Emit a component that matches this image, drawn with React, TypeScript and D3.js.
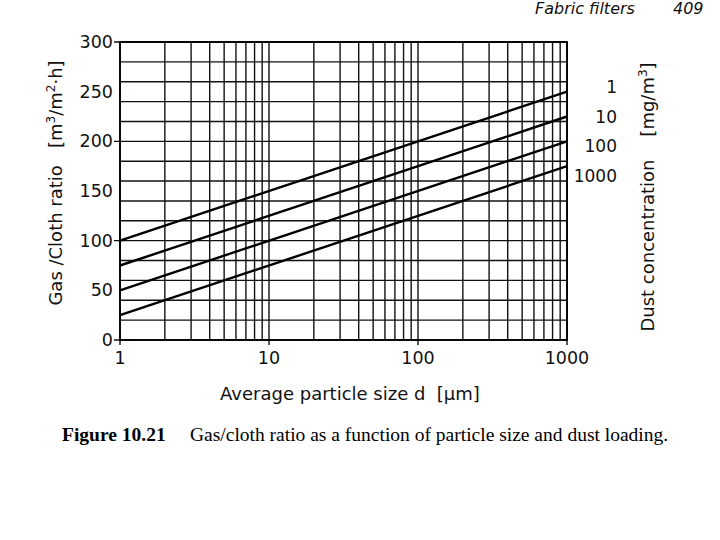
import React, { useEffect, useRef } from "react";
import * as d3 from "d3";

// dust concentrations (mg/m3) and gas/cloth ratio at d = 1 and d = 1000 µm
const concentrations = ["1", "10", "100", "1000"];
const ratioAt1 = [100, 75, 50, 25];
const ratioAt1000 = [250, 225, 200, 175];
const sizeEnds = [1, 1000];
const xTickLabels = [1, 10, 100, 1000];
const yTickLabels = [0, 50, 100, 150, 200, 250, 300];

const NB = "\u00a0";

const App: React.FC = () => {
  const ref = useRef<SVGSVGElement | null>(null);

  useEffect(() => {
    const width = 720;
    const height = 540;
    const left = 120;
    const right = 567;
    const top = 42;
    const bottom = 340;

    const svg = d3.select(ref.current);
    svg.selectAll("*").remove();
    svg.attr("width", width).attr("height", height);

    svg.append("rect").attr("width", width).attr("height", height).attr("fill", "#fff");

    const x = d3.scaleLog().domain([1, 1000]).range([left, right]);
    const y = d3.scaleLinear().domain([0, 300]).range([bottom, top]);
    const font = "DejaVu Sans, sans-serif";

    // vertical grid: 1..9 in each decade
    const vLines: number[] = [];
    for (let k = 0; k < 3; k++) {
      for (let m = 1; m < 10; m++) vLines.push(m * Math.pow(10, k));
    }
    vLines.push(1000);

    const grid = svg.append("g").attr("stroke", "#111").attr("stroke-width", 1.4);
    grid
      .selectAll("line.v")
      .data(vLines)
      .enter()
      .append("line")
      .attr("x1", (d) => x(d))
      .attr("x2", (d) => x(d))
      .attr("y1", top)
      .attr("y2", (d) => (xTickLabels.includes(d) ? bottom + 5 : bottom));

    grid
      .selectAll("line.h")
      .data(y.ticks(12))
      .enter()
      .append("line")
      .attr("x1", (d) => (yTickLabels.includes(d) ? left - 6 : left))
      .attr("x2", right)
      .attr("y1", (d) => y(d))
      .attr("y2", (d) => y(d));

    // frame
    svg
      .append("rect")
      .attr("x", left)
      .attr("y", top)
      .attr("width", right - left)
      .attr("height", bottom - top)
      .attr("fill", "none")
      .attr("stroke", "#000")
      .attr("stroke-width", 1.8);

    // concentration lines
    const line = d3
      .line<[number, number]>()
      .x((d) => x(d[0]))
      .y((d) => y(d[1]));

    concentrations.forEach((c, i) => {
      const pts: [number, number][] = [
        [sizeEnds[0], ratioAt1[i]],
        [sizeEnds[1], ratioAt1000[i]],
      ];
      svg
        .append("path")
        .datum(pts)
        .attr("fill", "none")
        .attr("stroke", "#000")
        .attr("stroke-width", 2.4)
        .attr("d", line);

      svg
        .append("text")
        .attr("x", 617)
        .attr("y", y(ratioAt1000[i]) + [-5, 0, 5, 10][i] + 6)
        .attr("text-anchor", "end")
        .attr("font-family", font)
        .attr("font-size", 17)
        .attr("fill", "#111")
        .text(c);
    });

    // y tick labels
    svg
      .selectAll("text.yt")
      .data(yTickLabels)
      .enter()
      .append("text")
      .attr("x", left - 7)
      .attr("y", (d) => y(d) + 6)
      .attr("text-anchor", "end")
      .attr("font-family", font)
      .attr("font-size", 17.5)
      .attr("fill", "#111")
      .text((d) => d);

    // x tick labels
    svg
      .selectAll("text.xt")
      .data(xTickLabels)
      .enter()
      .append("text")
      .attr("x", (d) => x(d))
      .attr("y", bottom + 24)
      .attr("text-anchor", "middle")
      .attr("font-family", font)
      .attr("font-size", 17.5)
      .attr("fill", "#111")
      .text((d) => d);

    // x axis title
    svg
      .append("text")
      .attr("x", 350)
      .attr("y", 400)
      .attr("text-anchor", "middle")
      .attr("font-family", font)
      .attr("font-size", 18)
      .attr("fill", "#111")
      .text(`Average particle size d${NB}${NB}[µm]`);

    // y axis title
    const yt = svg
      .append("text")
      .attr("transform", "translate(62,183) rotate(-90)")
      .attr("text-anchor", "middle")
      .attr("font-family", font)
      .attr("font-size", 18)
      .attr("fill", "#111");
    yt.append("tspan").text(`Gas /Cloth ratio${NB}${NB}${NB}[m`);
    yt.append("tspan").attr("dy", -7).attr("font-size", 12).text("3");
    yt.append("tspan").attr("dy", 7).text("/m");
    yt.append("tspan").attr("dy", -7).attr("font-size", 12).text("2");
    yt.append("tspan").attr("dy", 7).text("·h]");

    // right title
    const rt = svg
      .append("text")
      .attr("transform", "translate(654,197) rotate(-90)")
      .attr("text-anchor", "middle")
      .attr("font-family", font)
      .attr("font-size", 18)
      .attr("fill", "#111");
    rt.append("tspan").text(`Dust concentration${NB}${NB}${NB}${NB}[mg/m`);
    rt.append("tspan").attr("dy", -7).attr("font-size", 12).text("3");
    rt.append("tspan").attr("dy", 7).text("]");

    // page header
    svg
      .append("text")
      .attr("x", 535)
      .attr("y", 14)
      .attr("font-family", font)
      .attr("font-style", "italic")
      .attr("font-size", 16)
      .attr("fill", "#111")
      .text("Fabric filters");
    svg
      .append("text")
      .attr("x", 673)
      .attr("y", 14)
      .attr("font-family", font)
      .attr("font-style", "italic")
      .attr("font-size", 16)
      .attr("fill", "#111")
      .text("409");

    // caption
    const cap = svg
      .append("text")
      .attr("x", 62)
      .attr("y", 441)
      .attr("font-family", "Liberation Serif, serif")
      .attr("font-size", 19.5)
      .attr("fill", "#000");
    cap.append("tspan").attr("font-weight", "bold").text("Figure 10.21");
    cap
      .append("tspan")
      .attr("x", 190)
      .text("Gas/cloth ratio as a function of particle size and dust loading.");
  }, []);

  return (
    <svg
      ref={ref}
      style={{ position: "absolute", left: 0, top: 0, display: "block" }}
    />
  );
};

export default App;
